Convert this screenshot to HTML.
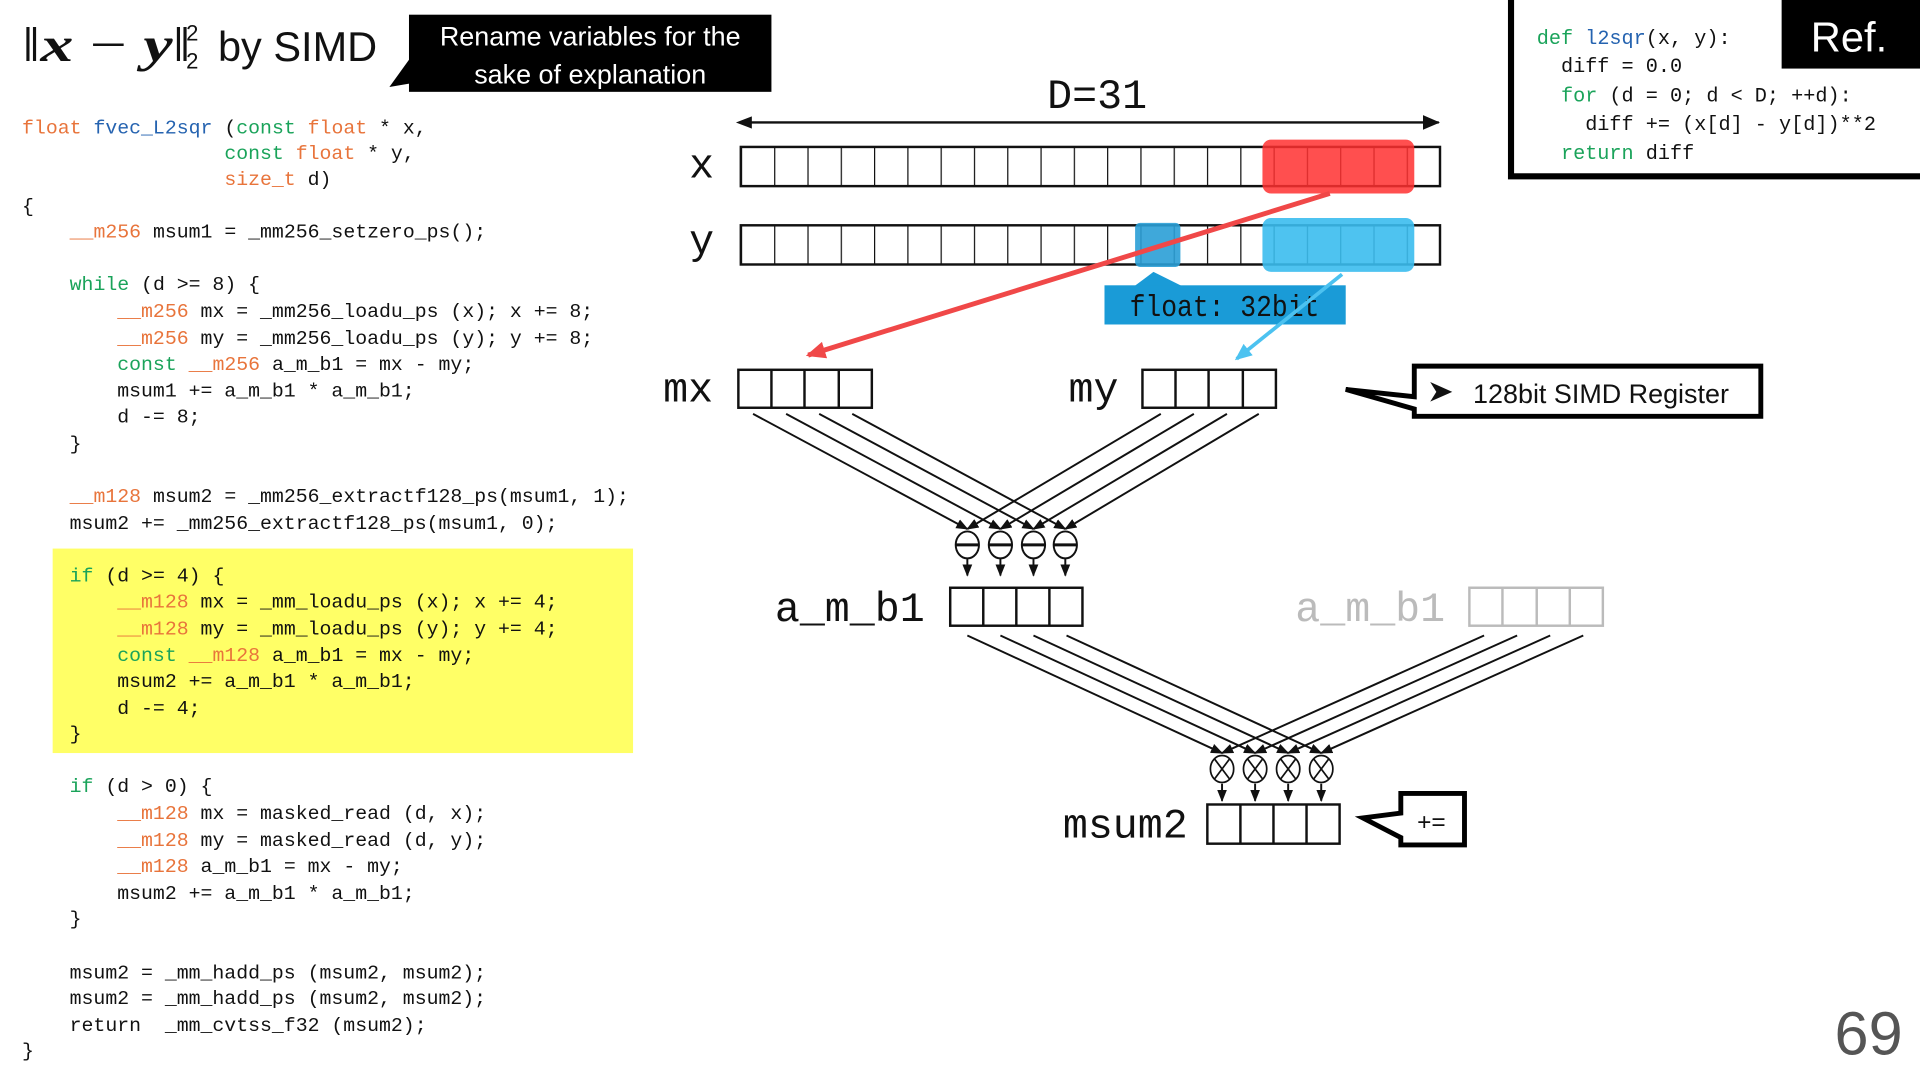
<!DOCTYPE html>
<html><head><meta charset="utf-8"><style>
html,body{margin:0;padding:0;background:#fff;}
svg{display:block}
.c text{white-space:pre}
.c{font-family:"Liberation Mono",monospace;font-size:16.2px;fill:#111}
.o{fill:#e8743b}.g{fill:#1aa35a}.b{fill:#2563b0}
.lab{font-family:"Liberation Mono",monospace;font-size:34px;fill:#111}
</style></head><body>
<svg width="1920" height="1080" viewBox="0 0 1568 882" preserveAspectRatio="none" xmlns="http://www.w3.org/2000/svg">
<defs>
<marker id="ah" markerWidth="10" markerHeight="10" refX="9" refY="5" orient="auto" markerUnits="userSpaceOnUse"><path d="M0,1 L10,5 L0,9 Z" fill="#111"/></marker>
<marker id="ahb" markerWidth="14" markerHeight="14" refX="13" refY="7" orient="auto" markerUnits="userSpaceOnUse"><path d="M0,1 L14,7 L0,13 Z" fill="#111"/></marker>
<marker id="ahr" markerWidth="16" markerHeight="14" refX="14" refY="7" orient="auto" markerUnits="userSpaceOnUse"><path d="M0,0 L16,7 L0,14 Z" fill="#f04848"/></marker>
<marker id="ahc" markerWidth="14" markerHeight="12" refX="12" refY="6" orient="auto" markerUnits="userSpaceOnUse"><path d="M0,0 L14,6 L0,12 Z" fill="#4cc2f0"/></marker>
<pattern id="cells" x="605" y="0" width="27.19" height="10" patternUnits="userSpaceOnUse"><line x1="0" y1="0" x2="0" y2="10" stroke="#111" stroke-width="2"/></pattern>
</defs>

<!-- Title -->
<text x="18" y="50" font-family="Liberation Serif,serif" font-size="40" fill="#111" textLength="138" lengthAdjust="spacingAndGlyphs">‖<tspan font-style="italic" font-weight="bold">x</tspan> − <tspan font-style="italic" font-weight="bold">y</tspan>‖</text>
<text x="152" y="33" font-family="Liberation Sans,sans-serif" font-size="18" fill="#111">2</text>
<text x="152" y="56" font-family="Liberation Sans,sans-serif" font-size="18" fill="#111">2</text>
<text x="178" y="50" font-family="Liberation Sans,sans-serif" font-size="34" fill="#111" textLength="130" lengthAdjust="spacingAndGlyphs">by SIMD</text>

<polygon points="336,46 318,71 336,68" fill="#000"/>
<rect x="334" y="12" width="296" height="63" fill="#000"/>
<text x="482" y="37" text-anchor="middle" font-family="Liberation Sans,sans-serif" font-size="22" fill="#fff">Rename variables for the</text>
<text x="482" y="68" text-anchor="middle" font-family="Liberation Sans,sans-serif" font-size="22" fill="#fff">sake of explanation</text>

<!-- Code -->
<rect x="43" y="448" width="474" height="167" fill="#ffff66"/>
<g class="c">
<text x="18" y="109"><tspan class="o">float</tspan> <tspan class="b">fvec_L2sqr</tspan> (<tspan class="g">const</tspan> <tspan class="o">float</tspan> * x,</text>
<text x="18" y="130">                 <tspan class="g">const</tspan> <tspan class="o">float</tspan> * y,</text>
<text x="18" y="151">                 <tspan class="o">size_t</tspan> d)</text>
<text x="18" y="173">{</text>
<text x="18" y="194">    <tspan class="o">__m256</tspan> msum1 = _mm256_setzero_ps();</text>
<text x="18" y="237">    <tspan class="g">while</tspan> (d &gt;= 8) {</text>
<text x="18" y="259">        <tspan class="o">__m256</tspan> mx = _mm256_loadu_ps (x); x += 8;</text>
<text x="18" y="281">        <tspan class="o">__m256</tspan> my = _mm256_loadu_ps (y); y += 8;</text>
<text x="18" y="302">        <tspan class="g">const</tspan> <tspan class="o">__m256</tspan> a_m_b1 = mx - my;</text>
<text x="18" y="324">        msum1 += a_m_b1 * a_m_b1;</text>
<text x="18" y="345">        d -= 8;</text>
<text x="18" y="367">    }</text>
<text x="18" y="410">    <tspan class="o">__m128</tspan> msum2 = _mm256_extractf128_ps(msum1, 1);</text>
<text x="18" y="432">    msum2 += _mm256_extractf128_ps(msum1, 0);</text>
<text x="18" y="475">    <tspan class="g">if</tspan> (d &gt;= 4) {</text>
<text x="18" y="496">        <tspan class="o">__m128</tspan> mx = _mm_loadu_ps (x); x += 4;</text>
<text x="18" y="518">        <tspan class="o">__m128</tspan> my = _mm_loadu_ps (y); y += 4;</text>
<text x="18" y="540">        <tspan class="g">const</tspan> <tspan class="o">__m128</tspan> a_m_b1 = mx - my;</text>
<text x="18" y="561">        msum2 += a_m_b1 * a_m_b1;</text>
<text x="18" y="583">        d -= 4;</text>
<text x="18" y="604">    }</text>
<text x="18" y="647">    <tspan class="g">if</tspan> (d &gt; 0) {</text>
<text x="18" y="669">        <tspan class="o">__m128</tspan> mx = masked_read (d, x);</text>
<text x="18" y="691">        <tspan class="o">__m128</tspan> my = masked_read (d, y);</text>
<text x="18" y="712">        <tspan class="o">__m128</tspan> a_m_b1 = mx - my;</text>
<text x="18" y="734">        msum2 += a_m_b1 * a_m_b1;</text>
<text x="18" y="755">    }</text>
<text x="18" y="799">    msum2 = _mm_hadd_ps (msum2, msum2);</text>
<text x="18" y="820">    msum2 = _mm_hadd_ps (msum2, msum2);</text>
<text x="18" y="842">    return  _mm_cvtss_f32 (msum2);</text>
<text x="18" y="863">}</text>
</g>

<!-- Ref box -->
<rect x="1234" y="-4" width="340" height="148" fill="#fff" stroke="#000" stroke-width="5"/>
<rect x="1455" y="0" width="113" height="56" fill="#000"/>
<text x="1510" y="42" text-anchor="middle" font-family="Liberation Sans,sans-serif" font-size="34" fill="#fff">Ref.</text>
<g class="c" style="font-size:16.5px">
<text x="1255" y="36"><tspan class="g">def</tspan> <tspan class="b">l2sqr</tspan>(x, y):</text>
<text x="1255" y="59">  diff = 0.0</text>
<text x="1255" y="83">  <tspan class="g">for</tspan> (d = 0; d &lt; D; ++d):</text>
<text x="1255" y="106">    diff += (x[d] - y[d])**2</text>
<text x="1255" y="130">  <tspan class="g">return</tspan> diff</text>
</g>

<!-- D=31 -->
<text x="896" y="88" text-anchor="middle" font-family="Liberation Mono,monospace" font-size="34" fill="#111">D=31</text>
<line x1="604" y1="100" x2="1175" y2="100" stroke="#111" stroke-width="2" marker-end="url(#ahb)"/>
<path d="M601,100 L614,95 L614,105 Z" fill="#111"/>

<!-- x/y arrays -->
<text x="573" y="145" text-anchor="middle" class="lab">x</text>
<rect x="605" y="120" width="571" height="32" fill="url(#cells)" stroke="#111" stroke-width="2"/>
<text x="573" y="207" text-anchor="middle" class="lab">y</text>
<rect x="605" y="184" width="571" height="32" fill="url(#cells)" stroke="#111" stroke-width="2"/>

<rect x="1031" y="114" width="124" height="44" rx="7" fill="#ff3030" fill-opacity="0.85"/>
<rect x="1031" y="178" width="124" height="44" rx="7" fill="#3bbdee" fill-opacity="0.9"/>
<rect x="927" y="182" width="37" height="36" rx="4" fill="#2a9fd6" fill-opacity="0.9"/>

<!-- float label -->
<polygon points="926,234 942,222 966,234" fill="#1a9bd7"/>
<rect x="902" y="233" width="197" height="32" fill="#1a9bd7"/>
<text x="1000" y="258" text-anchor="middle" font-family="Liberation Mono,monospace" font-size="25" fill="#111" textLength="155" lengthAdjust="spacingAndGlyphs">float: 32bit</text>

<!-- arrows -->
<line x1="1086" y1="158" x2="660" y2="290" stroke="#f04848" stroke-width="4" marker-end="url(#ahr)"/>
<line x1="1096" y1="224" x2="1010" y2="293" stroke="#4cc2f0" stroke-width="3" marker-end="url(#ahc)"/>

<!-- mx / my -->
<text x="562" y="328" text-anchor="middle" class="lab">mx</text>
<g stroke="#111" stroke-width="2" fill="none">
<rect x="603" y="302" width="109" height="31"/><line x1="630" y1="302" x2="630" y2="333"/><line x1="657" y1="302" x2="657" y2="333"/><line x1="685" y1="302" x2="685" y2="333"/>
</g>
<text x="893" y="328" text-anchor="middle" class="lab">my</text>
<g stroke="#111" stroke-width="2" fill="none">
<rect x="933" y="302" width="109" height="31"/><line x1="960" y1="302" x2="960" y2="333"/><line x1="987" y1="302" x2="987" y2="333"/><line x1="1015" y1="302" x2="1015" y2="333"/>
</g>

<!-- SIMD callout -->
<path d="M1155,299 H1438 V340 H1155 V334 L1099,318 L1155,324 Z" fill="#fff" stroke="#000" stroke-width="4"/>
<path d="M1168,312 L1186,320 L1168,328 L1173,320 Z" fill="#111"/>
<text x="1203" y="329" font-family="Liberation Sans,sans-serif" font-size="22" fill="#111">128bit SIMD Register</text>

<!-- fan 1 -->
<g stroke="#111" stroke-width="1.6" marker-end="url(#ah)">
<line x1="615" y1="338" x2="790" y2="432"/><line x1="642" y1="338" x2="817" y2="432"/>
<line x1="669" y1="338" x2="844" y2="432"/><line x1="696" y1="338" x2="870" y2="432"/>
<line x1="948" y1="338" x2="790" y2="432"/><line x1="975" y1="338" x2="817" y2="432"/>
<line x1="1002" y1="338" x2="844" y2="432"/><line x1="1028" y1="338" x2="870" y2="432"/>
<line x1="790" y1="456" x2="790" y2="470"/><line x1="817" y1="456" x2="817" y2="470"/>
<line x1="844" y1="456" x2="844" y2="470"/><line x1="870" y1="456" x2="870" y2="470"/>
</g>
<g stroke="#111" stroke-width="1.6" fill="#fff">
<ellipse cx="790" cy="445" rx="9.5" ry="11"/><ellipse cx="817" cy="445" rx="9.5" ry="11"/>
<ellipse cx="844" cy="445" rx="9.5" ry="11"/><ellipse cx="870" cy="445" rx="9.5" ry="11"/>
<line x1="781" y1="445" x2="799" y2="445" stroke-width="2.4"/><line x1="808" y1="445" x2="826" y2="445" stroke-width="2.4"/>
<line x1="835" y1="445" x2="853" y2="445" stroke-width="2.4"/><line x1="861" y1="445" x2="879" y2="445" stroke-width="2.4"/>
</g>

<!-- a_m_b1 -->
<text x="694" y="507" text-anchor="middle" class="lab">a_m_b1</text>
<g stroke="#111" stroke-width="2" fill="none">
<rect x="776" y="480" width="108" height="31"/><line x1="803" y1="480" x2="803" y2="511"/><line x1="830" y1="480" x2="830" y2="511"/><line x1="857" y1="480" x2="857" y2="511"/>
</g>
<text x="1119" y="507" text-anchor="middle" class="lab" style="fill:#bbb">a_m_b1</text>
<g stroke="#bbb" stroke-width="2" fill="none">
<rect x="1200" y="480" width="109" height="31"/><line x1="1227" y1="480" x2="1227" y2="511"/><line x1="1255" y1="480" x2="1255" y2="511"/><line x1="1282" y1="480" x2="1282" y2="511"/>
</g>

<!-- fan 2 -->
<g stroke="#111" stroke-width="1.6" marker-end="url(#ah)">
<line x1="790" y1="519" x2="998" y2="615"/><line x1="817" y1="519" x2="1025" y2="615"/>
<line x1="844" y1="519" x2="1052" y2="615"/><line x1="871" y1="519" x2="1079" y2="615"/>
<line x1="1212" y1="519" x2="998" y2="615"/><line x1="1239" y1="519" x2="1025" y2="615"/>
<line x1="1266" y1="519" x2="1052" y2="615"/><line x1="1293" y1="519" x2="1079" y2="615"/>
<line x1="998" y1="640" x2="998" y2="654"/><line x1="1025" y1="640" x2="1025" y2="654"/>
<line x1="1052" y1="640" x2="1052" y2="654"/><line x1="1079" y1="640" x2="1079" y2="654"/>
</g>
<g stroke="#111" stroke-width="1.4" fill="#fff">
<ellipse cx="998" cy="628" rx="9.5" ry="11"/><ellipse cx="1025" cy="628" rx="9.5" ry="11"/>
<ellipse cx="1052" cy="628" rx="9.5" ry="11"/><ellipse cx="1079" cy="628" rx="9.5" ry="11"/>
<path d="M992,620 L1004,636 M1004,620 L992,636 M1019,620 L1031,636 M1031,620 L1019,636 M1046,620 L1058,636 M1058,620 L1046,636 M1073,620 L1085,636 M1085,620 L1073,636"/>
</g>

<!-- msum2 -->
<text x="919" y="684" text-anchor="middle" class="lab">msum2</text>
<g stroke="#111" stroke-width="2" fill="none">
<rect x="986" y="657" width="108" height="32"/><line x1="1013" y1="657" x2="1013" y2="689"/><line x1="1040" y1="657" x2="1040" y2="689"/><line x1="1067" y1="657" x2="1067" y2="689"/>
</g>
<path d="M1144,648 H1196 V690 H1144 V684 L1113,668 L1144,664 Z" fill="#fff" stroke="#000" stroke-width="4"/>
<text x="1169" y="678" text-anchor="middle" font-family="Liberation Sans,sans-serif" font-size="20" fill="#111">+=</text>

<text x="1526" y="861" text-anchor="middle" font-family="Liberation Sans,sans-serif" font-size="50" fill="#555">69</text>
</svg>
</body></html>
